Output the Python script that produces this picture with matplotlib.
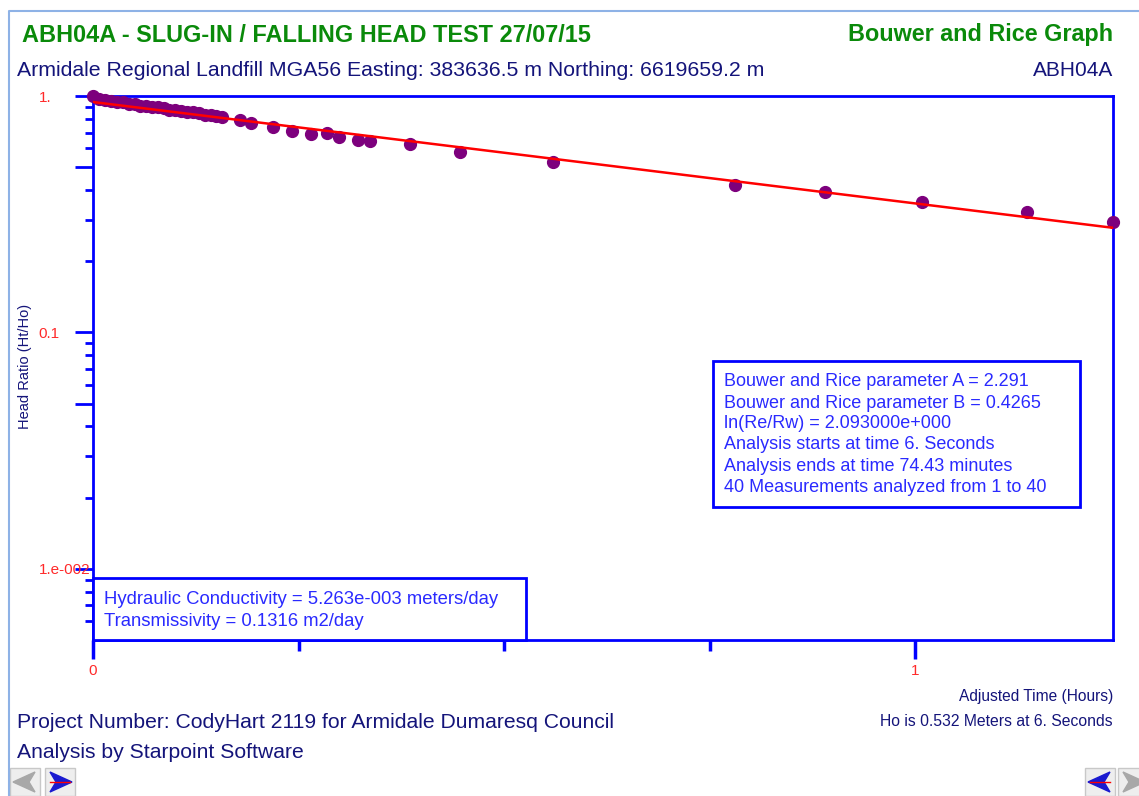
import matplotlib
matplotlib.use("Agg")
import matplotlib.pyplot as plt
from matplotlib.patches import Rectangle, Polygon
import matplotlib.lines as mlines
from matplotlib.ticker import LogLocator, FixedLocator, NullFormatter

plt.rcParams['font.family'] = ['Liberation Sans', 'DejaVu Sans']

#====Data (time in hours, head ratio Ht/Ho)
time_hr = [0.0, 0.0073, 0.0146, 0.0219, 0.0292, 0.0365, 0.0438, 0.0511, 0.0572, 0.0645,
           0.0718, 0.0791, 0.0864, 0.0925, 0.0998, 0.1071, 0.1144, 0.1217, 0.1290, 0.1363,
           0.1436, 0.1496, 0.1569, 0.1788, 0.1922, 0.2190, 0.2421, 0.2652, 0.2847, 0.2993,
           0.3224, 0.3370, 0.3856, 0.4465, 0.5596, 0.7810, 0.8905, 1.0085, 1.1363, 1.2405]
head_ratio = [1.0, 0.9666, 0.9572, 0.9526, 0.9388, 0.9434, 0.9252, 0.9209, 0.9075, 0.9075,
              0.8988, 0.8945, 0.8858, 0.8728, 0.8728, 0.8643, 0.8560, 0.8519, 0.8437, 0.8314,
              0.8274, 0.8194, 0.8116, 0.7920, 0.7693, 0.7365, 0.7083, 0.6914, 0.6947, 0.6714,
              0.6522, 0.6459, 0.6272, 0.5804, 0.5267, 0.4212, 0.3934, 0.3570, 0.3239, 0.2940]

#Bouwer and Rice fitted line
fit_time = [0.0, 1.2405]
fit_ratio = [0.943, 0.277]

y_ticks = [0.01, 0.05, 0.1, 0.5, 1.0]
y_ticklabels = ['1.e-002', '', '0.1', '', '1.']
x_ticks = [0, 1]
x_ticklabels = ['0', '1']
x_minor = [0.25, 0.5, 0.75]

params_text = ["Bouwer and Rice parameter A = 2.291",
               "Bouwer and Rice parameter B = 0.4265",
               "ln(Re/Rw) = 2.093000e+000",
               "Analysis starts at time 6. Seconds",
               "Analysis ends at time 74.43 minutes",
               "40 Measurements analyzed from 1 to 40"]
results_text = ["Hydraulic Conductivity = 5.263e-003 meters/day",
                "Transmissivity = 0.1316 m2/day"]

BLUE = '#0000ff'
NAVY = '#14147a'
GREEN = '#0a8a0a'
TXTBLUE = '#2a2aff'
W, H = 1139, 796

def fx(px):
    return px / W

def fy(py):
    return 1 - py / H

#====Figure
fig = plt.figure(figsize=(11.39, 7.96), dpi=100)
ax = fig.add_axes([fx(93), fy(640), 1020 / W, 544 / H])

ax.set_yscale('log')
ax.set_xlim(0, 1.2405)
ax.set_ylim(0.005, 1.0)

ax.plot(time_hr, head_ratio, 'o', color='#7d007d', markersize=8.5, clip_on=False, zorder=3)
ax.plot(fit_time, fit_ratio, color='#ff0000', lw=1.8, zorder=4)

for s in ax.spines.values():
    s.set_color(BLUE)
    s.set_linewidth(2)

ax.yaxis.set_major_locator(FixedLocator(y_ticks))
ax.set_yticklabels(y_ticklabels)
ax.yaxis.set_minor_locator(LogLocator(base=10, subs=[2, 3, 4, 6, 7, 8, 9]))
ax.yaxis.set_minor_formatter(NullFormatter())
ax.set_xticks(x_ticks)
ax.set_xticklabels(x_ticklabels)
ax.xaxis.set_minor_locator(FixedLocator(x_minor))

ax.tick_params(axis='y', which='major', length=13, width=2, color=BLUE,
               labelcolor='#ff2a2a', labelsize=11, pad=26)
ax.tick_params(axis='y', which='minor', length=6, width=2, color=BLUE)
ax.tick_params(axis='x', which='major', length=14, width=2.5, color=BLUE,
               labelcolor='#ff2a2a', labelsize=11, pad=3)
ax.tick_params(axis='x', which='minor', length=8, width=2.5, color=BLUE)
for lbl in ax.get_yticklabels():
    lbl.set_horizontalalignment('left')

ax.set_ylabel("Head Ratio (Ht/Ho)", color=NAVY, fontsize=10.5)
ax.yaxis.set_label_coords(-0.06, 0.502)
ax.set_xlabel("Adjusted Time (Hours)", color=NAVY, fontsize=11.2, ha='right')
ax.xaxis.set_label_coords(1.0, -0.09)

#Parameter box
ax.add_patch(Rectangle((0.6078, 0.2445), 0.3598, 0.2684, transform=ax.transAxes,
                       facecolor='white', edgecolor=BLUE, lw=2, clip_on=False, zorder=5))
for i, line in enumerate(params_text):
    fig.text(fx(724), fy(382 + 21 * i), line, color=TXTBLUE, fontsize=13,
             va='center', ha='left', zorder=6)

#Results box
ax.add_patch(Rectangle((0.0, 0.0), 0.4245, 0.114, transform=ax.transAxes,
                       facecolor='white', edgecolor=BLUE, lw=2, clip_on=False, zorder=5))
for i, line in enumerate(results_text):
    fig.text(fx(104), fy(600 + 21 * i), line, color=TXTBLUE, fontsize=13.3,
             va='center', ha='left', zorder=6)

#====Titles and footers
fig.text(fx(22), fy(35), "ABH04A - SLUG-IN / FALLING HEAD TEST 27/07/15", color=GREEN,
         fontsize=16.9, fontweight='bold', va='center', ha='left')
fig.text(fx(1113), fy(35), "Bouwer and Rice Graph", color=GREEN,
         fontsize=16.8, fontweight='bold', va='center', ha='right')
fig.text(fx(17), fy(71), "Armidale Regional Landfill MGA56 Easting: 383636.5 m Northing: 6619659.2 m",
         color=NAVY, fontsize=15.3, va='center', ha='left')
fig.text(fx(1113), fy(71), "ABH04A", color=NAVY, fontsize=15, va='center', ha='right')
fig.text(fx(17), fy(723), "Project Number: CodyHart 2119 for Armidale Dumaresq Council",
         color=NAVY, fontsize=15.2, va='center', ha='left')
fig.text(fx(17), fy(752), "Analysis by Starpoint Software", color=NAVY, fontsize=15.2,
         va='center', ha='left')
fig.text(fx(1113), fy(721), "Ho is 0.532 Meters at 6. Seconds", color=NAVY, fontsize=11.3,
         va='center', ha='right')

#Outer frame
fig.add_artist(mlines.Line2D([fx(8.5), fx(8.5), fx(1139)], [fy(800), fy(10.5), fy(10.5)],
                             color='#8eb2e6', lw=1.5))

#Navigation buttons
def button(x0, w, arrow_right, active):
    fig.add_artist(Rectangle((fx(x0), fy(796)), w / W, 28 / H, facecolor='#eeeeee',
                             edgecolor='#c8c8c8', lw=1))
    cx, cy = x0 + w / 2, 782
    if arrow_right:
        pts = [(cx + 12, cy), (cx - 10, cy - 10), (cx - 4, cy), (cx - 10, cy + 10)]
    else:
        pts = [(cx - 12, cy), (cx + 10, cy - 10), (cx + 4, cy), (cx + 10, cy + 10)]
    col = '#1a1ad0' if active else '#a8a8a8'
    fig.add_artist(Polygon([(fx(a), fy(b)) for a, b in pts], closed=True,
                           facecolor=col, edgecolor=col))
    if active:
        fig.add_artist(mlines.Line2D([fx(cx - 10), fx(cx + 10)], [fy(cy), fy(cy)],
                                     color='#ff0000', lw=1))

button(10, 30, False, False)
button(45, 30, True, True)
button(1085, 30, False, True)
button(1118, 30, True, False)

fig.savefig("out.png", dpi=100, facecolor='white')
plt.close(fig)
